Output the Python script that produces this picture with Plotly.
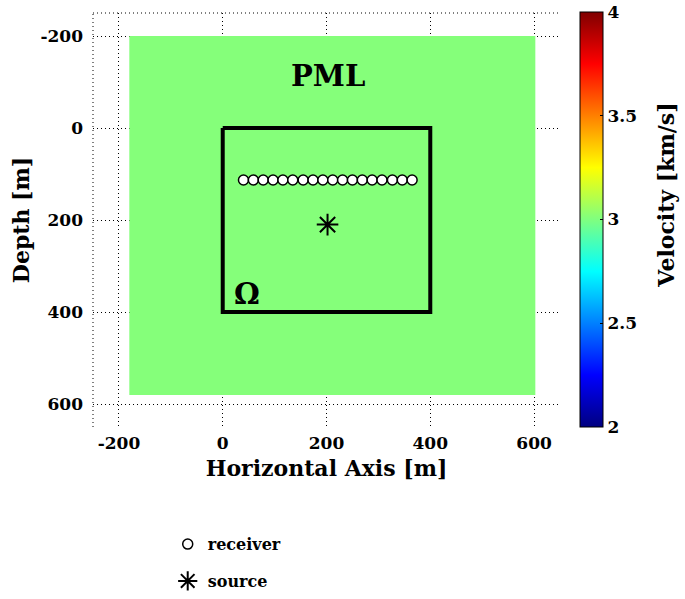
import plotly.graph_objects as go

# ---- data ----
model_x_edges = [-180, 602]
model_y_edges = [-200, 580]
model_velocity = [[3.01]]

omega_x = [0, 400, 400, 0, 0]
omega_y = [0, 0, 400, 400, 0]

receiver_x = [40, 59, 78, 97, 116, 135, 155, 174, 193, 212, 231, 250, 269, 288, 307, 327, 346, 365]
receiver_y = [113] * len(receiver_x)

source_x = [202]
source_y = [210]

label_text = ["PML", "<b>Ω</b>"]
label_x = [202, 46]
label_y = [-112, 361]

tick_vals = [-200, 0, 200, 400, 600]
tick_text = ["-200", "0", "200", "400", "600"]
cbar_ticks = [2, 2.5, 3, 3.5, 4]
cbar_text = ["2", "2.5", "3", "3.5", "4"]

# MATLAB jet
jet = [[0.0, "rgb(0,0,128)"], [0.125, "rgb(0,0,255)"], [0.375, "rgb(0,255,255)"],
       [0.625, "rgb(255,255,0)"], [0.875, "rgb(255,0,0)"], [1.0, "rgb(128,0,0)"]]

FONT = "DejaVu Serif"
DOT = "1px,3px"

fig = go.Figure()

fig.add_trace(go.Heatmap(
    x=model_x_edges, y=model_y_edges, z=model_velocity,
    zmin=2, zmax=4, colorscale=jet, hoverinfo="skip",
    colorbar=dict(
        x=1.0428, xanchor="left", xpad=0,
        y=0.5012, yanchor="middle", ypad=0,
        len=415, lenmode="pixels", thickness=23,
        outlinewidth=1, outlinecolor="black",
        tickvals=cbar_ticks, ticktext=cbar_text,
        ticks="inside", ticklen=3, tickcolor="black",
        tickfont=dict(family=FONT, size=17, color="black", weight="bold"),
    ),
    showlegend=False,
))

fig.add_trace(go.Scatter(
    x=omega_x, y=omega_y, mode="lines",
    line=dict(color="black", width=4), showlegend=False, hoverinfo="skip",
))

fig.add_trace(go.Scatter(
    x=receiver_x, y=receiver_y, mode="markers", name="receiver",
    legendgroup="r",
    marker=dict(symbol="circle", size=10, color="white",
                line=dict(color="black", width=1.5)),
))

fig.add_trace(go.Scatter(
    x=source_x, y=source_y, mode="markers", name="source",
    legendgroup="s",
    marker=dict(symbol="asterisk-open", size=18, color="black",
                line=dict(color="black", width=2)),
))

for t, x, y in zip(label_text, label_x, label_y):
    fig.add_annotation(x=x, y=y, text=t, showarrow=False,
                       font=dict(family=FONT, size=29, color="black", weight="bold"))

# colorbar title as rotated annotation
fig.add_annotation(xref="paper", yref="paper", x=1.228, y=0.56,
                   text="Velocity [km/s]", textangle=-90, showarrow=False,
                   xanchor="center", yanchor="middle",
                   font=dict(family=FONT, size=22, color="black", weight="bold"))

axis_common = dict(
    tickvals=tick_vals, ticktext=tick_text, showgrid=True, gridcolor="black",
    griddash=DOT, gridwidth=1, zeroline=False, showline=False, ticks="",
    automargin=False,
    tickfont=dict(family=FONT, size=17, color="black", weight="bold"),
)

fig.update_xaxes(range=[-250, 650], ticklabelstandoff=4,
                 title=dict(text="Horizontal Axis [m]", standoff=8,
                            font=dict(family=FONT, size=22, color="black", weight="bold")),
                 **axis_common)
fig.update_yaxes(range=[650, -250], ticklabelstandoff=9,
                 title=dict(text="Depth [m]", standoff=4,
                            font=dict(family=FONT, size=22, color="black", weight="bold")),
                 **axis_common)

fig.add_shape(type="line", xref="paper", yref="paper", x0=0, x1=1, y0=1, y1=1,
              line=dict(color="black", width=1, dash=DOT), layer="below")
fig.add_shape(type="line", xref="paper", yref="paper", x0=0, x1=0, y0=0, y1=1,
              line=dict(color="black", width=1, dash=DOT), layer="below")

fig.update_layout(
    width=685, height=599,
    margin=dict(l=93, r=125, t=13, b=172, autoexpand=False),
    plot_bgcolor="white", paper_bgcolor="white",
    font=dict(family=FONT, color="black", weight="bold"),
    legend=dict(x=0.16, xanchor="left", y=-0.242, yanchor="top",
                orientation="v", tracegroupgap=13, itemwidth=30,
                bgcolor="rgba(0,0,0,0)",
                font=dict(family=FONT, size=16, color="black", weight="bold")),
)

fig.write_html("out.html", config={"displayModeBar": False},
               post_script="document.body.style.margin='0px';document.body.style.overflow='hidden';")
